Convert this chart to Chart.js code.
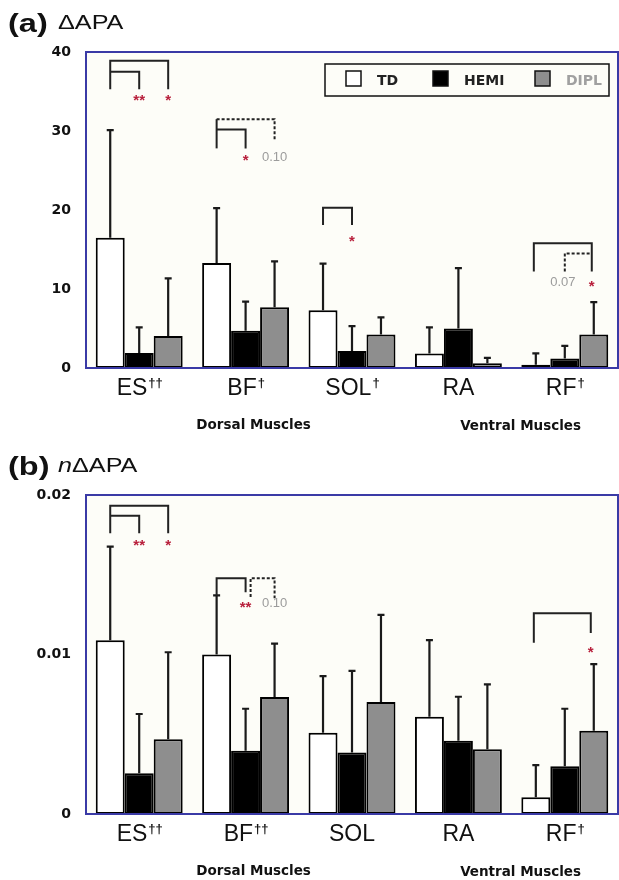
<!DOCTYPE html>
<html>
<head>
<meta charset="utf-8">
<script src="https://cdn.jsdelivr.net/npm/chart.js@4"></script>
<style>
  body { margin: 0; background: #fff; }
  canvas { display: block; }
</style>
</head>
<body>
<canvas id="chartA" width="619" height="440"></canvas>
<canvas id="chartB" width="619" height="440"></canvas>
<script>
const categories = ['ES', 'BF', 'SOL', 'RA', 'RF'];
const groups = ['TD', 'HEMI', 'DIPL'];
const daggersA = ['\u2020\u2020', '\u2020', '\u2020', '', '\u2020'];
const daggersB = ['\u2020\u2020', '\u2020\u2020', '', '', '\u2020'];

// (a) ΔAPA: means and upper SD
const apaTD = [16.5, 13.3, 7.3, 1.85, 0.4];
const apaTDsd = [13.6, 6.95, 5.9, 3.3, 1.45];
const apaHEMI = [1.9, 4.7, 2.15, 5.0, 1.2];
const apaHEMIsd = [3.25, 3.7, 3.15, 7.65, 1.6];
const apaDIPL = [4.05, 7.7, 4.25, 0.6, 4.25];
const apaDIPLsd = [7.3, 5.8, 2.15, 0.67, 4.1];
const apaTicks = [0, 10, 20, 30, 40];

// (b) nΔAPA
const napaTD = [0.0109, 0.0100, 0.0051, 0.0061, 0.00105];
const napaTDsd = [0.00586, 0.00371, 0.00355, 0.0048, 0.00202];
const napaHEMI = [0.00255, 0.00397, 0.00385, 0.0046, 0.00299];
const napaHEMIsd = [0.00372, 0.00263, 0.00512, 0.00275, 0.00361];
const napaDIPL = [0.00468, 0.00734, 0.00702, 0.00406, 0.00522];
const napaDIPLsd = [0.00546, 0.00334, 0.00546, 0.00407, 0.00418];
const napaTicks = [0, 0.01, 0.02];

const fills = ['#ffffff', '#000000', '#8e8e8e'];
const RED = '#b8203c';
const GREY_TXT = '#9c9c9c';

// significance brackets: points are [category, bar, value, dx]
const bracketsA = [
  { pts: [[0,0,35.3],[0,0,38.9],[0,2,38.9],[0,2,35.3]] },
  { pts: [[0,0,37.5],[0,1,37.5],[0,1,35.3]] },
  { pts: [[1,0,27.8],[1,0,31.5]] },
  { pts: [[1,0,30.2],[1,1,30.2],[1,1,27.8]] },
  { pts: [[1,0,31.5],[1,2,31.5],[1,2,28.9]], dash: true },
  { pts: [[2,0,18.1],[2,0,20.3],[2,1,20.3],[2,1,18.1]] },
  { pts: [[4,0,12.2,-2],[4,0,15.8,-2],[4,2,15.8,-2],[4,2,12.2,-2]] },
  { pts: [[4,1,12.2],[4,1,14.5],[4,2,14.5,-2]], dash: true }
];
const marksA = [
  { at: [0,1,34.3], text: '**', color: RED },
  { at: [0,2,34.3], text: '*', color: RED },
  { at: [1,1,26.7], text: '*', color: RED },
  { at: [1,2,26.7], text: '0.10', color: GREY_TXT },
  { at: [2,1,16.5], text: '*', color: RED },
  { at: [4,1,10.8,-2], text: '0.07', color: GREY_TXT },
  { at: [4,2,10.8,-2], text: '*', color: RED }
];
const bracketsB = [
  { pts: [[0,0,0.0176],[0,0,0.01933],[0,2,0.01933],[0,2,0.0176]] },
  { pts: [[0,0,0.0187],[0,1,0.0187],[0,1,0.0176]] },
  { pts: [[1,0,0.01371],[1,0,0.01478],[1,1,0.01478],[1,1,0.0139]] },
  { pts: [[1,1,0.0136,5],[1,1,0.01478,5],[1,2,0.01478],[1,2,0.01352]], dash: true },
  { pts: [[4,0,0.01074,-2],[4,0,0.01258,-2],[4,2,0.01258,-3],[4,2,0.01135,-3]] }
];
const marksB = [
  { at: [0,1,0.01707], text: '**', color: RED },
  { at: [0,2,0.01707], text: '*', color: RED },
  { at: [1,1,0.0132], text: '**', color: RED },
  { at: [1,2,0.0132], text: '0.10', color: GREY_TXT },
  { at: [4,2,0.01034,-3], text: '*', color: RED }
];

function xy(chart, p) {
  const el = chart.getDatasetMeta(p[1]).data[p[0]];
  return [el.x + (p[3] || 0), chart.scales.y.getPixelForValue(p[2])];
}

const decor = {
  id: 'decor',
  beforeDatasetsDraw(chart) {
    const a = chart.chartArea, ctx = chart.ctx;
    ctx.save();
    ctx.fillStyle = '#fdfdf8';
    ctx.fillRect(a.left, a.top, a.right - a.left, a.bottom - a.top);
    ctx.restore();
  },
  afterDatasetsDraw(chart, args, o) {
    const ctx = chart.ctx, a = chart.chartArea, y = chart.scales.y, x = chart.scales.x;
    ctx.save();
    // error bars
    ctx.strokeStyle = '#1a1a1a';
    ctx.lineWidth = 2.2;
    chart.data.datasets.forEach((ds, di) => {
      chart.getDatasetMeta(di).data.forEach((el, i) => {
        const top = y.getPixelForValue(ds.data[i] + ds.sd[i]);
        ctx.beginPath();
        ctx.moveTo(el.x, el.y);
        ctx.lineTo(el.x, top);
        ctx.moveTo(el.x - 3.5, top);
        ctx.lineTo(el.x + 3.5, top);
        ctx.stroke();
      });
    });
    // plot frame
    ctx.strokeStyle = '#3a3aa6';
    ctx.lineWidth = 2;
    ctx.strokeRect(a.left, a.top, a.right - a.left, a.bottom - a.top);
    // brackets
    ctx.strokeStyle = '#222';
    ctx.lineWidth = 2;
    o.brackets.forEach(b => {
      ctx.setLineDash(b.dash ? [3, 2] : []);
      ctx.beginPath();
      b.pts.forEach((p, k) => {
        const q = xy(chart, p);
        k ? ctx.lineTo(q[0], q[1]) : ctx.moveTo(q[0], q[1]);
      });
      ctx.stroke();
    });
    ctx.setLineDash([]);
    ctx.textAlign = 'center';
    ctx.textBaseline = 'middle';
    o.marks.forEach(m => {
      const q = xy(chart, m.at);
      ctx.fillStyle = m.color;
      if (m.text.startsWith('*')) {
        ctx.font = 'bold 15px "Liberation Sans"';
        ctx.fillText(m.text, q[0], q[1] + 4);
      } else {
        ctx.font = '13px "Liberation Sans"';
        ctx.fillText(m.text, q[0], q[1]);
      }
    });
    // category labels with daggers
    ctx.fillStyle = '#111';
    ctx.textAlign = 'left';
    categories.forEach((c, i) => {
      const cx = x.getPixelForValue(i);
      ctx.font = '23px "Liberation Sans"';
      const w1 = ctx.measureText(c).width;
      ctx.font = 'bold 13px "Liberation Sans"';
      const w2 = ctx.measureText(o.daggers[i]).width;
      const sx = cx - (w1 + w2) / 2;
      ctx.font = '23px "Liberation Sans"';
      ctx.fillText(c, sx, a.bottom + 21);
      ctx.font = 'bold 13px "Liberation Sans"';
      ctx.fillText(o.daggers[i], sx + w1 + 1, a.bottom + 15);
    });
    ctx.textAlign = 'center';
    ctx.font = 'bold 13.5px "DejaVu Sans"';
    ctx.fillText('Dorsal Muscles', (x.getPixelForValue(0) + x.getPixelForValue(2)) / 2 + 8, a.bottom + 57);
    ctx.fillText('Ventral Muscles', (x.getPixelForValue(3) + x.getPixelForValue(4)) / 2 + 9, a.bottom + 58);
    // panel title, slightly stretched like the source figure
    ctx.textAlign = 'left';
    ctx.textBaseline = 'alphabetic';
    ctx.save();
    ctx.translate(8, o.titleY);
    ctx.scale(1.3, 1);
    ctx.font = 'bold 25px "Liberation Sans"';
    ctx.fillText(o.tag, 0, 0);
    ctx.restore();
    ctx.save();
    ctx.translate(58, o.titleY - 3);
    ctx.scale(1.2, 1);
    let tx = 0;
    if (o.italicN) {
      ctx.font = 'italic 21px "Liberation Sans"';
      ctx.fillText('n', tx, 0);
      tx += ctx.measureText('n').width;
    }
    ctx.font = '21px "Liberation Sans"';
    ctx.fillText('\u0394APA', tx, 0);
    ctx.restore();
    // legend box
    if (o.legend) {
      ctx.strokeStyle = '#111';
      ctx.lineWidth = 1.5;
      ctx.strokeRect(325, 64, 284, 32);
      const sq = [346, 433, 535];
      const txtCol = ['#222', '#222', '#a0a0a0'];
      ctx.font = 'bold 14px "DejaVu Sans"';
      ctx.textBaseline = 'middle';
      chart.data.datasets.forEach((ds, i) => {
        ctx.fillStyle = ds.backgroundColor;
        ctx.fillRect(sq[i], 71, 15, 15);
        ctx.strokeStyle = '#111';
        ctx.strokeRect(sq[i], 71, 15, 15);
        ctx.fillStyle = txtCol[i];
        ctx.fillText(ds.label, sq[i] + 31, 81);
      });
    }
    ctx.restore();
  }
};

function makeChart(id, sets, sds, ticks, opts) {
  return new Chart(document.getElementById(id), {
    type: 'bar',
    data: {
      labels: categories,
      datasets: groups.map((g, i) => ({
        label: g,
        data: sets[i],
        sd: sds[i],
        backgroundColor: fills[i],
        borderColor: '#000',
        borderWidth: 2,
        borderSkipped: false,
        categoryPercentage: 0.817,
        barPercentage: 1
      }))
    },
    options: {
      responsive: false,
      animation: false,
      devicePixelRatio: 1,
      layout: { padding: { top: opts.top, right: 1, left: 0, bottom: 0 } },
      scales: {
        x: {
          grid: { display: false },
          border: { display: false },
          ticks: { display: false },
          afterFit: s => { s.height = opts.xh; }
        },
        y: {
          min: ticks[0],
          max: ticks[ticks.length - 1],
          afterBuildTicks: s => { s.ticks = ticks.map(v => ({ value: v })); },
          grid: { display: false, drawTicks: false },
          border: { display: false },
          ticks: {
            color: '#111',
            padding: 15,
            font: { family: 'DejaVu Sans', size: 14, weight: 'bold' },
            callback: v => String(v)
          },
          afterFit: s => { s.width = 86; }
        }
      },
      plugins: {
        legend: { display: false },
        tooltip: { enabled: false },
        decor: opts.decor
      }
    },
    plugins: [decor]
  });
}

makeChart('chartA', [apaTD, apaHEMI, apaDIPL], [apaTDsd, apaHEMIsd, apaDIPLsd], apaTicks, {
  top: 52, xh: 72,
  decor: { brackets: bracketsA, marks: marksA, daggers: daggersA, tag: '(a)', titleY: 32, legend: true }
});
makeChart('chartB', [napaTD, napaHEMI, napaDIPL], [napaTDsd, napaHEMIsd, napaDIPLsd], napaTicks, {
  top: 55, xh: 66,
  decor: { brackets: bracketsB, marks: marksB, daggers: daggersB, tag: '(b)', titleY: 35, italicN: true }
});
</script>
</body>
</html>
